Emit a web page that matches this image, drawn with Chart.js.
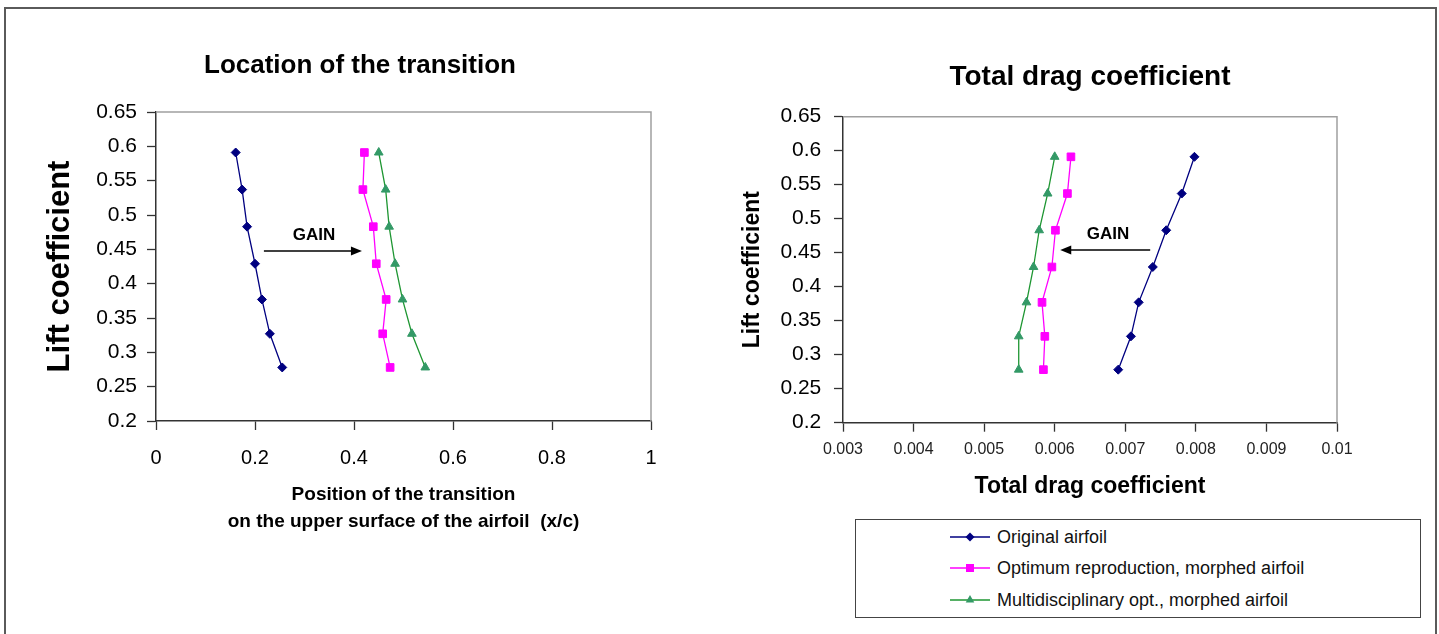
<!DOCTYPE html>
<html>
<head>
<meta charset="utf-8">
<script src="https://cdn.jsdelivr.net/npm/chart.js@4/dist/chart.umd.min.js"></script>
<style>
  body { margin: 0; background: #fff; width: 1439px; height: 634px; overflow: hidden; position: relative; font-family: "Liberation Sans", Arial, sans-serif; }
  #frame { position: absolute; left: 4px; top: 7px; width: 1433px; height: 660px; border: 2px solid #5a5a5a; box-sizing: border-box; }
  #leftChart { position: absolute; left: 20px; top: 0; }
  #rightChart { position: absolute; left: 735px; top: 0; }
  #legend { position: absolute; left: 855px; top: 519px; width: 566px; height: 99px; border: 1.5px solid #444; box-sizing: border-box; background: #fff; }
  .item { position: absolute; left: 94px; height: 24px; display: flex; align-items: center; font-size: 18px; color: #111; white-space: nowrap; }
  .item svg { margin-right: 7px; }
</style>
</head>
<body>
<div id="frame"></div>
<canvas id="leftChart" width="680" height="560"></canvas>
<canvas id="rightChart" width="700" height="520"></canvas>
<div id="legend"></div>

<script>
// lift coefficient (y) shared by all series
const liftCoeff = [0.591, 0.537, 0.483, 0.429, 0.377, 0.327, 0.278];

// transition position x/c (left chart)
const transOriginal = [0.161, 0.174, 0.184, 0.200, 0.214, 0.230, 0.255];
const transOptRepro = [0.421, 0.418, 0.439, 0.445, 0.465, 0.458, 0.473];
const transMultiOpt = [0.450, 0.464, 0.471, 0.483, 0.498, 0.517, 0.544];

// total drag coefficient (right chart)
const dragOriginal = [0.00798, 0.00780, 0.00758, 0.00739, 0.00719, 0.00708, 0.00690];
const dragOptRepro = [0.00623, 0.00618, 0.00601, 0.00596, 0.00582, 0.00586, 0.00584];
const dragMultiOpt = [0.00600, 0.00590, 0.00578, 0.00570, 0.00560, 0.00549, 0.00549];

const seriesNames = ["Original airfoil", "Optimum reproduction, morphed airfoil", "Multidisciplinary opt., morphed airfoil"];

// tick labels
const liftTicks = [0.2, 0.25, 0.3, 0.35, 0.4, 0.45, 0.5, 0.55, 0.6, 0.65];
const transTicks = [0, 0.2, 0.4, 0.6, 0.8, 1];
const dragTicks = [0.003, 0.004, 0.005, 0.006, 0.007, 0.008, 0.009, 0.01];

// "GAIN" arrows, in data units
const gainLeft = { label: [0.319, 0.471], from: [0.218, 0.4475], to: [0.416, 0.4475] };
const gainRight = { label: [0.006754, 0.4775], from: [0.007353, 0.454], to: [0.006078, 0.454] };

const styles = [
  { line: "#000080", point: "#000080", shape: "rectRot", radius: 4.5 },
  { line: "#ff00ff", point: "#ff00ff", shape: "rect", radius: 5.4 },
  { line: "#1e9632", point: "#339966", shape: "triangle", radius: 5 }
];

Chart.defaults.font.family = '"Liberation Sans", Arial, sans-serif';
Chart.defaults.color = "#000";

function makeDatasets(xs) {
  return xs.map((arr, k) => ({
    label: seriesNames[k],
    data: liftCoeff.map((y, i) => ({ x: arr[i], y: y })),
    showLine: true,
    borderColor: styles[k].line,
    borderWidth: 1.3,
    backgroundColor: styles[k].point,
    pointBackgroundColor: styles[k].point,
    pointBorderColor: styles[k].point,
    pointBorderWidth: 1,
    pointStyle: styles[k].shape,
    pointRadius: styles[k].radius,
    tension: 0
  }));
}

const plotBorder = {
  id: "plotBorder",
  beforeDatasetsDraw(chart) {
    const { ctx, chartArea: a } = chart;
    ctx.save();
    ctx.strokeStyle = "#a0a0a0";
    ctx.lineWidth = 1.5;
    ctx.beginPath();
    ctx.moveTo(a.left, a.top);
    ctx.lineTo(a.right, a.top);
    ctx.lineTo(a.right, a.bottom);
    ctx.stroke();
    ctx.restore();
  }
};

const gainArrow = {
  id: "gain",
  afterDatasetsDraw(chart, args, opts) {
    const { ctx, scales: { x, y } } = chart;
    const x0 = x.getPixelForValue(opts.from[0]), y0 = y.getPixelForValue(opts.from[1]);
    const x1 = x.getPixelForValue(opts.to[0]), y1 = y.getPixelForValue(opts.to[1]);
    const dir = Math.sign(x1 - x0);
    ctx.save();
    ctx.strokeStyle = "#000";
    ctx.fillStyle = "#000";
    ctx.lineWidth = 1.6;
    ctx.beginPath();
    ctx.moveTo(x0, y0);
    ctx.lineTo(x1 - dir * 8, y1);
    ctx.stroke();
    ctx.beginPath();
    ctx.moveTo(x1, y1);
    ctx.lineTo(x1 - dir * 11, y1 - 4.5);
    ctx.lineTo(x1 - dir * 11, y1 + 4.5);
    ctx.closePath();
    ctx.fill();
    ctx.font = "bold 17px " + Chart.defaults.font.family;
    ctx.textAlign = "center";
    ctx.textBaseline = "middle";
    ctx.fillText("GAIN", x.getPixelForValue(opts.label[0]), y.getPixelForValue(opts.label[1]));
    ctx.restore();
  }
};

function liftScale(width, titleSize, titlePad, tickPad) {
  return {
    type: "linear", min: 0.2, max: 0.65,
    afterBuildTicks: s => { s.ticks = liftTicks.map(v => ({ value: v })); },
    afterFit: s => { s.width = width; },
    ticks: { padding: tickPad, color: "#000", font: { size: 21 }, callback: v => String(+v.toFixed(2)) },
    grid: { drawOnChartArea: false, tickLength: 9, color: "#333", tickWidth: 1.3 },
    border: { color: "#333", width: 1.5 },
    title: { display: true, text: "Lift coefficient", color: "#000", font: { size: titleSize, weight: "bold" }, padding: { top: titlePad, bottom: 0 } }
  };
}

new Chart(document.getElementById("leftChart"), {
  type: "scatter",
  data: { datasets: makeDatasets([transOriginal, transOptRepro, transMultiOpt]) },
  options: {
    responsive: false,
    animation: false,
    // left padding keeps the title centred where the original one is
    layout: { padding: { left: 49, right: 49, top: 0, bottom: 0 } },
    scales: {
      x: {
        type: "linear", min: 0, max: 1,
        afterBuildTicks: s => { s.ticks = transTicks.map(v => ({ value: v })); },
        afterFit: s => { s.height = 139; },
        ticks: { padding: 16, color: "#000", font: { size: 20 }, callback: v => String(+v.toFixed(1)) },
        grid: { drawOnChartArea: false, tickLength: 9, color: "#333", tickWidth: 1.3 },
        border: { color: "#333", width: 1.5 },
        title: {
          display: true,
          text: ["Position of the transition", "on the upper surface of the airfoil  (x/c)"],
          color: "#000",
          font: { size: 19, weight: "bold", lineHeight: 1.42 },
          padding: { top: 0, bottom: 24.5 }
        }
      },
      y: liftScale(87, 31, -27.6, 10)
    },
    plugins: {
      legend: { display: false },
      tooltip: { enabled: false },
      title: {
        display: true, text: "Location of the transition", color: "#000",
        font: { size: 26, weight: "bold", lineHeight: 1.2 },
        padding: { top: 50, bottom: 30.8 }
      },
      gain: gainLeft
    }
  },
  plugins: [plotBorder, gainArrow]
});

new Chart(document.getElementById("rightChart"), {
  type: "scatter",
  data: { datasets: makeDatasets([dragOriginal, dragOptRepro, dragMultiOpt]) },
  options: {
    responsive: false,
    animation: false,
    layout: { padding: { left: 0, right: 98, top: 0, bottom: 0 } },
    scales: {
      x: {
        type: "linear", min: 0.003, max: 0.01,
        afterBuildTicks: s => { s.ticks = dragTicks.map(v => ({ value: v })); },
        afterFit: s => { s.height = 97.3; },
        ticks: { padding: 8, color: "#222", font: { size: 16 }, callback: v => String(+v.toFixed(3)) },
        grid: { drawOnChartArea: false, tickLength: 9, color: "#333", tickWidth: 1.3 },
        border: { color: "#333", width: 1.5 },
        title: {
          display: true, text: "Total drag coefficient", color: "#000",
          font: { size: 23, weight: "bold", lineHeight: 1.2 },
          padding: { top: 0, bottom: 19.2 }
        }
      },
      y: liftScale(108, 23, 3.7, 12.7)
    },
    plugins: {
      legend: { display: false },
      tooltip: { enabled: false },
      title: {
        display: true, fullSize: false, text: "Total drag coefficient", color: "#000",
        font: { size: 28, weight: "bold", lineHeight: 1.2 },
        padding: { top: 60.2, bottom: 22.9 }
      },
      gain: gainRight
    }
  },
  plugins: [plotBorder, gainArrow]
});

// legend box below the right chart
const shapes = {
  rectRot: c => `<polygon points="20,1.5 24.5,6 20,10.5 15.5,6" fill="${c}"/>`,
  rect: c => `<rect x="16" y="2" width="8" height="8" fill="${c}"/>`,
  triangle: c => `<polygon points="20,1 24.3,8.5 15.7,8.5" fill="${c}"/>`
};
const legendEl = document.getElementById("legend");
const rowTops = [5, 36, 68];
seriesNames.forEach((name, k) => {
  const s = styles[k];
  const div = document.createElement("div");
  div.className = "item";
  div.style.top = rowTops[k] + "px";
  div.innerHTML = `<svg width="40" height="12"><line x1="0" y1="6" x2="40" y2="6" stroke="${s.line}" stroke-width="1.3"/>${shapes[s.shape](s.point)}</svg><span>${name}</span>`;
  legendEl.appendChild(div);
});
</script>
</body>
</html>
